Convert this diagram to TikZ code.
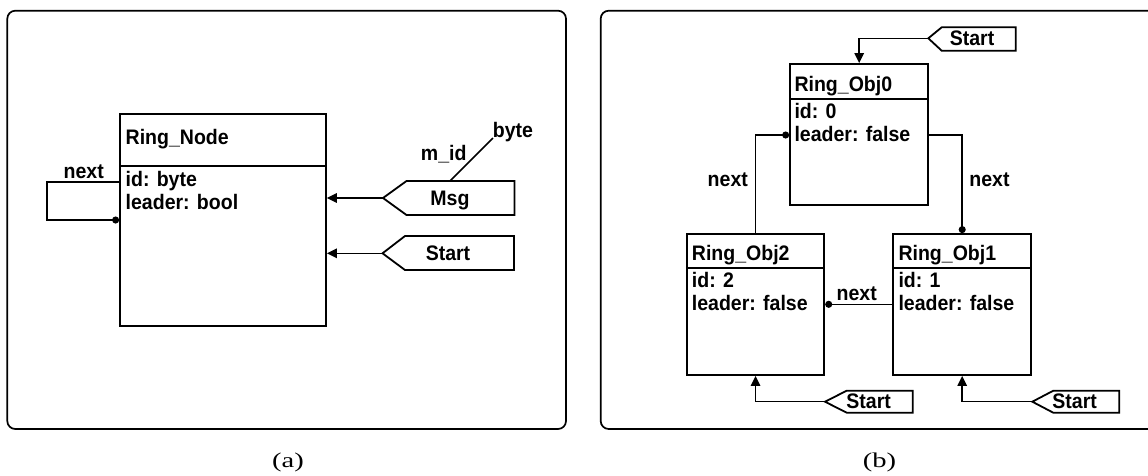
\documentclass[tikz,border=0pt]{standalone}
\usepackage{fontspec}
\setmainfont{Liberation Sans}
\newfontfamily\lblfont[FakeStretch=0.93]{Liberation Sans}
\newfontfamily\capfont[FakeStretch=1.36]{Liberation Serif}
\usetikzlibrary{arrows.meta}

\begin{document}
\begin{tikzpicture}[x=1pt,y=-1pt,
  frame/.style={draw, line width=1.7pt, rounded corners=8pt},
  classbox/.style={draw, line width=1.8pt, inner sep=0pt, fill=white},
  divider/.style={line width=1.8pt},
  flag/.style={line width=1.8pt, line join=miter},
  conn/.style={line width=1.5pt},
  arr/.style={conn, -{Triangle[length=10pt,width=9.5pt]}},
  dot/.style={conn, -{Circle[length=7pt]}},
  txt/.style={inner sep=0pt, font=\lblfont\fontsize{21}{24}\selectfont\bfseries},
  caption/.style={inner sep=0pt, font=\capfont\fontsize{21}{24}\selectfont}]

\useasboundingbox (0,0) rectangle (1148,475);

% ---------------- panel (a) ----------------
\draw[frame] (7.3,10.7) rectangle (566,429);
\node[caption, anchor=base] (capa) at (288,467) {(a)};

\node[classbox, minimum width=206pt, minimum height=212pt] (rn) at (223,220) {};
\draw[divider] (rn.west |- 0,166) -- (rn.east |- 0,166);
\node[txt, anchor=base west] (rnT) at (125.5,144) {Ring\_Node};
\node[txt, anchor=base west] (rnA) at (125.5,186) {id: byte};
\node[txt, anchor=base west] (rnB) at (125.5,209.3) {leader: bool};

% self reference
\coordinate (loopA) at (47,182);
\coordinate (loopB) at (47,220);
\draw[dot] (rn.west |- loopA) -- (loopA) -- (loopB) -- (rn.west |- loopB);
\node[txt, anchor=base] (nextA) at (83.7,178.3) {next};

% Msg port
\node[txt, anchor=base] (msg) at (450,205) {Msg};
\coordinate (msgtip) at (383,198);
\draw[flag] (msgtip) -- (406.5,181) -- (514.5,181) -- (514.5,215) -- (406.5,215) -- cycle;
\draw[arr] (msgtip) -- (rn.east |- msgtip);
\coordinate (msgtop) at (450,181);
\coordinate (msgend) at (493,138);
\draw[conn] (msgtop) -- (msgend);
\node[txt, anchor=base] (mid) at (443.7,160.7) {m\_id};
\node[txt, anchor=base] (mbyte) at (513,137.5) {byte};

% Start port
\node[txt, anchor=base] (sta) at (448,260) {Start};
\coordinate (statip) at (382.5,253.3);
\draw[flag] (statip) -- (405,236) -- (514,236) -- (514,270) -- (405,270) -- cycle;
\draw[arr] (statip) -- (rn.east |- statip);

% ---------------- panel (b) ----------------
\draw[frame] (600.7,10.7) rectangle (1160,429);
\node[caption, anchor=base] (capb) at (879.5,467) {(b)};

% objects
\node[classbox, minimum width=138.3pt, minimum height=141pt] (o0) at (859.2,134.5) {};
\draw[divider] (o0.west |- 0,99.3) -- (o0.east |- 0,99.3);
\node[txt, anchor=base west] (o0T) at (794.3,91.7) {Ring\_Obj0};
\node[txt, anchor=base west] (o0A) at (794.3,118.3) {id: 0};
\node[txt, anchor=base west] (o0B) at (794.3,141.7) {leader: false};

\node[classbox, minimum width=137.6pt, minimum height=141pt] (o2) at (755.5,304.5) {};
\draw[divider] (o2.west |- 0,267.7) -- (o2.east |- 0,267.7);
\node[txt, anchor=base west] (o2T) at (691.7,260) {Ring\_Obj2};
\node[txt, anchor=base west] (o2A) at (691.7,287.7) {id: 2};
\node[txt, anchor=base west] (o2B) at (691.7,310.7) {leader: false};

\node[classbox, minimum width=137.7pt, minimum height=141pt] (o1) at (962.2,304.5) {};
\draw[divider] (o1.west |- 0,267.7) -- (o1.east |- 0,267.7);
\node[txt, anchor=base west] (o1T) at (898.3,260) {Ring\_Obj1};
\node[txt, anchor=base west] (o1A) at (898.3,287.7) {id: 1};
\node[txt, anchor=base west] (o1B) at (898.3,310.7) {leader: false};

% next links
\coordinate (n20) at (o2.north |- 0,135);
\draw[dot] (o2.north) -- (n20) -- (o0.west |- n20);
\node[txt, anchor=base] (nextL) at (727.8,186.7) {next};

\coordinate (n01) at (o1.north |- 0,135);
\draw[dot] (o0.east |- n01) -- (n01) -- (o1.north);
\node[txt, anchor=base] (nextR) at (989.5,186.7) {next};

\coordinate (n12) at (0,304.3);
\draw[dot] (o1.west |- n12) -- (o2.east |- n12);
\node[txt, anchor=base] (nextM) at (856.7,300) {next};

% start ports
\node[txt, anchor=base] (s0) at (972,45) {Start};
\coordinate (s0tip) at (928.3,38.3);
\draw[flag] (s0tip) -- (941.7,27.3) -- (1015.7,27.3) -- (1015.7,50.7) -- (941.7,50.7) -- cycle;
\draw[arr] (s0tip) -- (o0.north |- s0tip) -- (o0.north);

\node[txt, anchor=base] (s2) at (868.7,408.3) {Start};
\coordinate (s2tip) at (825,401.7);
\draw[flag] (s2tip) -- (846.7,390.7) -- (912.7,390.7) -- (912.7,412.7) -- (846.7,412.7) -- cycle;
\draw[arr] (s2tip) -- (o2.south |- s2tip) -- (o2.south);

\node[txt, anchor=base] (s1) at (1074.7,408.3) {Start};
\coordinate (s1tip) at (1032.3,401.7);
\draw[flag] (s1tip) -- (1053.3,390.7) -- (1119.3,390.7) -- (1119.3,412.7) -- (1053.3,412.7) -- cycle;
\draw[arr] (s1tip) -- (o1.south |- s1tip) -- (o1.south);

\end{tikzpicture}
\end{document}
